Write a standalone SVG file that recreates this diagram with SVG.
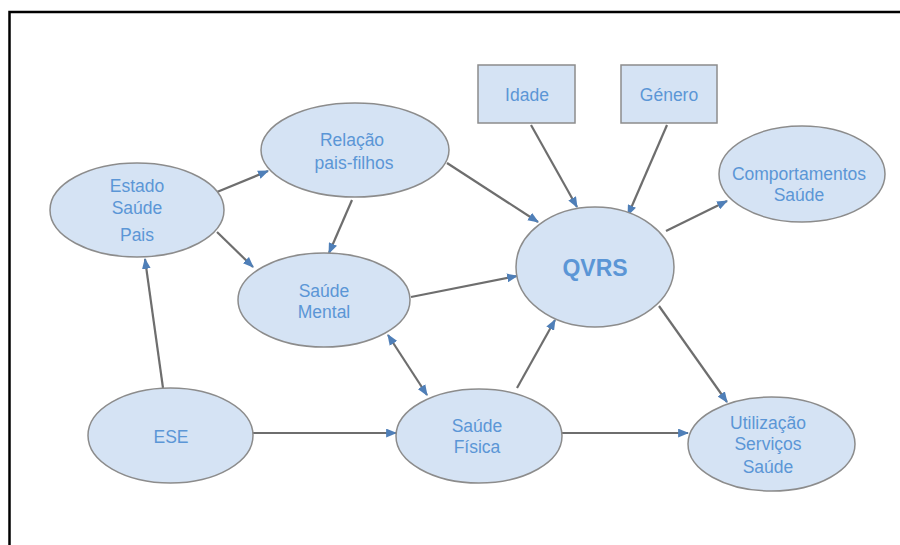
<svg xmlns="http://www.w3.org/2000/svg" width="900" height="545" viewBox="0 0 900 545">
<defs>
<marker id="ah" viewBox="0 0 10 8" refX="9" refY="4" markerWidth="11" markerHeight="9" markerUnits="userSpaceOnUse" orient="auto-start-reverse">
<path d="M0,0 L10,4 L0,8 z" fill="#4f7fb8"/>
</marker>
<style>
.n{fill:#d5e3f4;stroke:#8c8c8c;stroke-width:1.5}
.t{font-family:"Liberation Sans",Arial,sans-serif;font-size:17.5px;fill:#5b96d6;text-anchor:middle}
.b{font-weight:bold;font-size:23px}
.e{stroke:#6e6e6e;stroke-width:2.2;fill:none;marker-end:url(#ah)}
.d{marker-start:url(#ah)}
</style>
</defs>
<rect width="900" height="545" fill="#ffffff"/>
<path d="M9.5,545 L9.5,12 L900,12" fill="none" stroke="#000" stroke-width="2.5"/>
<g id="connectors">
<line class="e" x1="163" y1="388" x2="145" y2="259"/>
<line class="e" x1="217" y1="192" x2="268" y2="171"/>
<line class="e" x1="217" y1="232" x2="253" y2="267"/>
<line class="e" x1="352" y1="200" x2="329" y2="253"/>
<line class="e" x1="447" y1="163" x2="538" y2="222"/>
<line class="e" x1="411" y1="297" x2="517" y2="276"/>
<line class="e d" x1="388" y1="335" x2="427" y2="395"/>
<line class="e" x1="517" y1="388" x2="555" y2="320"/>
<line class="e" x1="531" y1="125" x2="577" y2="207"/>
<line class="e" x1="667" y1="125" x2="628" y2="215"/>
<line class="e" x1="666" y1="231" x2="727" y2="201"/>
<line class="e" x1="659" y1="306" x2="727" y2="402"/>
<line class="e" x1="253" y1="433" x2="396" y2="433"/>
<line class="e" x1="562" y1="433" x2="688" y2="433"/>
</g>
<g id="estado">
<ellipse class="n" cx="137" cy="210" rx="87" ry="47"/>
<text class="t" x="137" y="192">Estado</text>
<text class="t" x="137" y="214">Saúde</text>
<text class="t" x="137" y="241">Pais</text>
</g>
<g id="relacao">
<ellipse class="n" cx="355" cy="150" rx="94" ry="47"/>
<text class="t" x="352" y="146">Relação</text>
<text class="t" x="354" y="169">pais-filhos</text>
</g>
<g id="mental">
<ellipse class="n" cx="324" cy="300" rx="86" ry="47"/>
<text class="t" x="324" y="297">Saúde</text>
<text class="t" x="324" y="318">Mental</text>
</g>
<g id="idade">
<rect class="n" x="478" y="65" width="97" height="58"/>
<text class="t" x="527" y="101">Idade</text>
</g>
<g id="genero">
<rect class="n" x="621" y="65" width="96" height="58"/>
<text class="t" x="669" y="101">Género</text>
</g>
<g id="comportamentos">
<ellipse class="n" cx="802" cy="174" rx="83" ry="48"/>
<text class="t" x="799" y="180">Comportamentos</text>
<text class="t" x="799" y="201">Saúde</text>
</g>
<g id="qvrs">
<ellipse class="n" cx="595" cy="267" rx="79" ry="60"/>
<text class="t b" x="595" y="276">QVRS</text>
</g>
<g id="ese">
<ellipse class="n" cx="170.5" cy="435.5" rx="82.5" ry="47.5"/>
<text class="t" x="171" y="443">ESE</text>
</g>
<g id="fisica">
<ellipse class="n" cx="479" cy="436" rx="83" ry="47"/>
<text class="t" x="477" y="432">Saúde</text>
<text class="t" x="477" y="453">Física</text>
</g>
<g id="utilizacao">
<ellipse class="n" cx="771.5" cy="444" rx="83.5" ry="47"/>
<text class="t" x="768" y="429">Utilização</text>
<text class="t" x="768" y="450">Serviços</text>
<text class="t" x="768" y="473">Saúde</text>
</g>
</svg>
